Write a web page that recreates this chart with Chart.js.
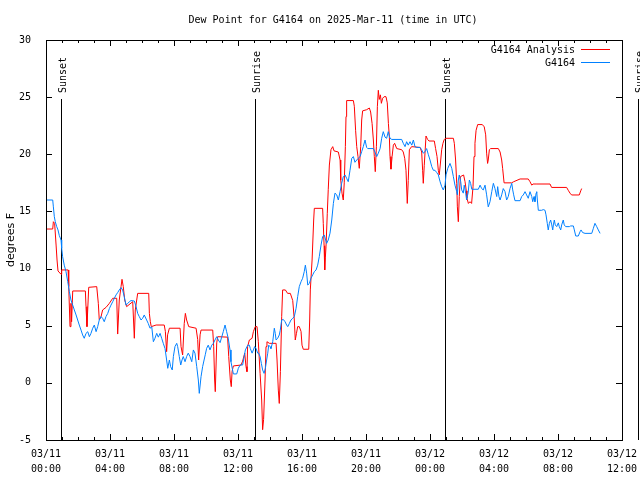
<!DOCTYPE html>
<html>
<head>
<meta charset="utf-8">
<title>Dew Point for G4164</title>
<script src="https://cdn.jsdelivr.net/npm/chart.js@4"></script>
<style>
  html, body { margin: 0; padding: 0; background: #fff; }
  canvas { display: block; }
</style>
</head>
<body>
<canvas id="dewChart" width="640" height="480"></canvas>
<script>
// times are hours after 03/11 00:00 UTC, dew point in degrees F
const analysisHours = [
  0,0.42,0.46,0.54,0.63,0.69,0.75,0.94,0.98,1.38, 1.42,1.5,1.56,1.6,1.67,2.46,2.5,2.56,2.67,3.17,
  3.27,3.33,3.44,3.54,3.75,3.96,4.17,4.42,4.48,4.58, 4.69,4.75,4.83,4.92,5.04,5.42,5.52,5.58,5.73,6.25,
  6.42,6.46,6.52,6.58,6.88,7.39,7.46,7.54,7.6,7.71, 8.38,8.44,8.54,8.64,8.71,8.79,8.92,9.38,9.48,9.54,
  9.63,9.69,10.42,10.48,10.54,10.58,10.67,10.73,11.35,11.42, 11.52,11.58,11.63,11.71,12.19,12.29,12.42,12.5,12.56,12.6,
  12.71,12.88,12.96,13.08,13.19,13.27,13.38,13.48,13.54,13.6, 13.69,13.75,13.81,13.96,14.38,14.44,14.52,14.58,14.65,14.73,
  14.79,14.96,15.1,15.27,15.42,15.52,15.58,15.65,15.73,15.83, 15.94,16.0,16.08,16.42,16.48,16.52,16.63,16.73,16.77,17.29,
  17.33,17.38,17.42,17.46,17.5,17.58,17.64,17.71,17.81,17.92, 18.0,18.27,18.38,18.42,18.5,18.58,18.64,18.71,18.75,18.79,
  19.21,19.27,19.35,19.42,19.5,19.58,19.67,19.73,19.79,20.04, 20.21,20.29,20.38,20.46,20.52,20.58,20.65,20.71,20.77,20.83,
  20.9,20.96,21.04,21.13,21.25,21.33,21.4,21.46,21.5,21.56, 21.63,21.71,21.79,21.92,22.23,22.33,22.42,22.5,22.58,22.64,
  22.71,22.85,23.38,23.48,23.54,23.58,23.64,23.75,23.85,23.94, 24.27,24.35,24.44,24.52,24.58,24.67,24.73,24.81,24.89,25.0,
  25.46,25.52,25.6,25.67,25.71,25.77,25.83,25.9,26.1,26.19, 26.27,26.31,26.4,26.5,26.6,26.69,26.75,26.81,26.88,26.98,
  27.27,27.39,27.48,27.54,27.6,27.64,27.71,27.79,28.27,28.38, 28.48,28.54,28.63,29.1,29.23,29.63,30.14,30.25,30.36,30.44,
  30.63,31.5,31.6,32.54,32.64,32.75,32.85,33.33,33.42,33.48
];
const analysisDew = [
  13.46,13.46,14.1,13.96,12.06,10.75,9.79,9.5,9.88,9.88, 8.42,4.92,6.96,5.35,8.04,8.04,6.67,4.92,8.36,8.42,
  6.96,5.5,5.79,6.38,6.6,6.96,7.4,7.4,4.27,7.25, 8.42,9.06,8.42,7.25,6.67,7.1,3.9,6.38,7.83,7.83,
  7.83,6.08,5.35,4.92,5.06,5.06,4.5,2.73,4.2,4.78, 4.78,3.17,2.44,5.2,6.08,5.5,4.92,4.78,3.8,2.0,
  4.2,4.62,4.62,3.2,0.25,-0.77,3.5,4.04,4.0,2.3, 0.25,-0.33,1.0,1.48,1.56,1.9,2.6,1.42,0.98,3.17,
  3.75,3.9,4.48,4.92,4.92,3.6,0.83,-1.5,-4.1,-3.2, 0.25,3.17,3.6,3.46,3.46,2.0,-0.63,-1.8,1.0,5.79,
  8.13,8.13,7.83,7.83,7.2,5.5,3.75,4.3,4.92,4.92, 4.5,3.3,2.94,2.94,5.5,8.13,10.75,14.25,15.27,15.27,
  13.96,12.0,9.88,11.0,11.9,14.8,16.9,19.06,20.4,20.67, 20.3,20.2,19.5,17.75,16.6,16.0,17.5,20.67,23.3,24.7,
  24.7,24.2,22.1,20.67,19.8,18.77,20.7,23.0,23.8,23.9, 24.05,23.7,22.7,21.25,19.8,18.48,20.7,24.17,25.6,24.8,
  25.2,24.46,24.9,25.04,25.04,24.5,22.7,21.5,19.8,18.7, 19.8,20.8,20.96,20.5,20.4,20.2,19.65,18.6,15.7,17.7,
  20.4,20.67,20.6,20.2,18.6,17.46,19.0,21.6,21.3,21.16, 21.16,20.5,19.8,18.6,18.2,19.5,20.4,20.96,21.3,21.4,
  21.4,20.96,19.5,17.46,15.4,14.1,16.3,18.04,18.19,17.6, 16.8,16.15,15.7,15.85,15.7,17.17,19.8,20.96,22.1,22.6,
  22.6,22.4,21.7,20.1,19.2,19.5,20.4,20.5,20.5,20.2, 19.5,18.77,17.5,17.5,17.6,17.84,17.84,17.6,17.3,17.4,
  17.4,17.4,17.1,17.1,16.85,16.6,16.44,16.44,16.8,17.0
];

const stationHours = [
  0,0.42,0.46,0.52,0.58,0.67,0.75,0.83,0.94,0.98, 1.04,1.14,1.25,1.36,1.46,1.56,1.67,1.77,1.88,1.98,
  2.08,2.19,2.29,2.39,2.5,2.61,2.71,2.81,2.92,3.02, 3.13,3.23,3.33,3.44,3.54,3.64,3.75,3.86,3.96,4.06,
  4.17,4.27,4.38,4.48,4.58,4.69,4.79,4.89,5.0,5.11, 5.21,5.31,5.52,5.63,5.73,5.83,5.94,6.04,6.14,6.29,
  6.39,6.5,6.61,6.71,6.81,6.92,7.02,7.13,7.23,7.33, 7.44,7.54,7.61,7.71,7.79,7.89,7.96,8.06,8.17,8.23,
  8.33,8.42,8.5,8.58,8.69,8.79,8.89,9.0,9.11,9.21, 9.31,9.42,9.52,9.58,9.69,9.79,9.88,9.96,10.04,10.14,
  10.25,10.36,10.46,10.56,10.67,10.77,10.88,10.98,11.08,11.19, 11.29,11.39,11.5,11.56,11.64,11.71,11.92,12.02,12.13,12.29,
  12.46,12.61,12.71,12.77,12.88,12.96,13.04,13.13,13.23,13.29, 13.38,13.46,13.54,13.63,13.71,13.79,13.86,13.92,14.0,14.06,
  14.17,14.27,14.33,14.38,14.48,14.58,14.64,14.73,14.83,14.94, 15.04,15.11,15.21,15.31,15.42,15.52,15.63,15.73,15.83,15.94,
  16.04,16.14,16.21,16.29,16.36,16.46,16.56,16.67,16.77,16.88, 16.98,17.08,17.19,17.29,17.39,17.54,17.64,17.75,17.86,17.96,
  18.06,18.17,18.27,18.38,18.48,18.58,18.69,18.79,18.89,19.0, 19.11,19.21,19.31,19.42,19.52,19.63,19.73,19.83,19.94,20.04,
  20.11,20.46,20.56,20.67,20.77,20.88,20.98,21.08,21.19,21.29, 21.39,21.5,21.61,22.23,22.33,22.44,22.54,22.64,22.75,22.86,
  22.96,23.06,23.17,23.38,23.48,23.58,23.69,23.79,23.89,24.0, 24.11,24.21,24.31,24.42,24.52,24.63,24.73,24.83,24.94,25.0,
  25.11,25.25,25.36,25.46,25.56,25.67,25.71,25.77,25.83,25.92, 25.98,26.08,26.14,26.23,26.29,26.39,26.46,26.54,26.61,27.02,
  27.13,27.23,27.33,27.44,27.54,27.64,27.75,27.86,27.96,28.06, 28.17,28.23,28.31,28.38,28.48,28.58,28.69,28.79,28.89,29.0,
  29.11,29.17,29.23,29.31,29.63,29.73,29.83,29.94,30.04,30.14, 30.25,30.36,30.42,30.5,30.56,30.63,30.67,30.71,30.77,30.98,
  31.08,31.19,31.25,31.33,31.39,31.46,31.54,31.61,31.67,31.71, 31.77,31.83,31.92,32.02,32.08,32.17,32.23,32.33,32.39,32.48,
  32.71,32.79,32.96,33.02,33.11,33.27,33.38,33.44,33.54,33.69, 34.11,34.21,34.31,34.42,34.52,34.63
];
const stationDew = [
  16.0,16.0,15.4,14.54,14.1,13.67,13.38,12.9,12.5,11.77, 11.04,10.3,9.73,8.85,7.98,7.25,6.8,6.38,5.94,5.5,
  5.06,4.62,4.19,3.9,4.33,4.48,4.04,4.33,4.78,5.06, 4.48,4.92,5.5,5.8,5.65,5.35,5.8,6.08,6.5,6.8,
  7.1,7.4,7.7,7.9,8.13,8.33,8.13,7.54,6.8,6.95, 7.1,7.2,7.16,6.67,6.08,5.8,5.5,5.65,5.94,5.5,
  5.2,4.78,4.9,3.6,3.9,4.33,4.0,4.33,3.9,3.46, 3.0,2.0,1.27,2.0,1.42,1.13,2.3,3.17,3.46,3.17,
  2.3,1.56,2.0,2.3,1.85,2.3,2.6,2.3,1.85,2.88, 2.6,1.42,0.25,-0.92,0.54,1.42,2.0,2.5,3.02,3.3,
  2.88,3.3,3.46,3.75,4.04,3.75,3.52,4.0,4.48,5.06, 4.48,3.9,2.88,1.85,1.27,0.78,0.78,1.27,1.56,1.56,
  2.88,3.3,3.3,3.0,2.6,2.88,3.17,3.0,2.6,2.6, 2.3,1.7,1.13,0.83,1.27,2.0,2.6,3.3,3.17,3.0,
  3.6,4.78,4.33,3.75,3.9,4.19,4.6,5.5,5.55,5.35, 5.06,4.92,5.2,5.5,5.65,5.8,6.53,7.54,8.42,8.85,
  9.15,9.73,10.3,9.6,8.56,8.7,9.15,9.45,9.73,9.88, 10.3,11.04,12.06,12.79,12.94,12.2,12.5,13.1,14.25,15.7,
  16.6,16.45,16.0,16.73,17.46,18.04,18.19,17.9,17.6,18.6, 19.65,19.8,19.3,19.5,19.65,19.8,20.23,20.67,21.25,20.6,
  20.5,20.5,20.2,19.8,20.1,20.5,21.4,21.98,21.5,21.4, 21.98,21.4,21.3,21.3,20.96,20.67,21.1,20.8,21.1,20.8,
  21.25,20.67,20.6,20.6,20.4,20.1,20.23,20.5,20.0,19.5, 18.92,18.6,18.6,18.4,18.2,17.6,17.17,16.88,17.3,18.2,
  18.77,19.2,18.77,18.04,17.3,16.73,16.45,17.75,18.19,17.6, 16.88,16.6,17.3,16.6,16.0,16.7,17.75,17.45,16.94,16.94,
  17.3,17.0,16.88,17.3,16.45,15.4,15.85,16.73,17.46,17.0, 16.3,17.17,16.3,16.0,16.45,17.0,16.73,16.0,16.3,17.0,
  17.46,16.88,16.45,15.94,15.94,16.3,16.44,16.73,16.44,16.15, 16.73,16.3,15.85,16.3,15.85,16.6,16.73,16.0,15.1,15.1,
  15.16,15.1,14.7,13.96,13.38,13.96,14.25,13.82,13.38,13.82, 14.25,13.82,13.67,14.0,13.67,13.38,13.82,14.25,13.82,13.67,
  13.67,13.73,13.73,13.38,12.85,12.85,13.23,13.38,13.15,13.08, 13.08,13.52,13.96,13.67,13.38,13.08
];

// sunrise / sunset markers
const sunHours = [0.94, 13.06, 24.94, 37.0];
const sunLabels = ['Sunset', 'Sunrise', 'Sunset', 'Sunrise'];

// axis ticks
const xTickHours = [0, 4, 8, 12, 16, 20, 24, 28, 32, 36];
const xTickDates = ['03/11', '03/11', '03/11', '03/11', '03/11', '03/11', '03/12', '03/12', '03/12', '03/12'];
const xTickTimes = ['00:00', '04:00', '08:00', '12:00', '16:00', '20:00', '00:00', '04:00', '08:00', '12:00'];
const yTicks = [-5, 0, 5, 10, 15, 20, 25, 30];

const seriesNames = ['G4164 Analysis', 'G4164'];
const seriesColors = ['#ff0000', '#0080ff'];

const mono = 'DejaVu Sans Mono';

function toPoints(hours, vals) {
  return hours.map((h, i) => ({ x: h, y: vals[i] }));
}

// gnuplot style frame, inward ticks, sun markers, legend and titles
const gnuplotBits = {
  id: 'gnuplotBits',
  beforeDatasetsDraw(chart) {
    const { ctx, chartArea, scales } = chart;
    ctx.save();
    ctx.strokeStyle = '#000';
    ctx.fillStyle = '#000';
    ctx.lineWidth = 1;
    ctx.font = '10px "' + mono + '"';
    sunHours.forEach((h, i) => {
      const px = Math.round(scales.x.getPixelForValue(h)) + 0.5;
      ctx.beginPath();
      ctx.moveTo(px, 99);
      ctx.lineTo(px, chartArea.bottom);
      ctx.stroke();
      ctx.save();
      ctx.translate(px + 1.5, 93);
      ctx.rotate(-Math.PI / 2);
      ctx.textAlign = 'left';
      ctx.textBaseline = 'middle';
      ctx.fillText(sunLabels[i], 0, 0);
      ctx.restore();
    });
    ctx.restore();
  },
  afterDatasetsDraw(chart) {
    const { ctx, chartArea, scales } = chart;
    const { left, right, top, bottom } = chartArea;
    ctx.save();
    ctx.strokeStyle = '#000';
    ctx.lineWidth = 1;
    ctx.strokeRect(left + 0.5, top + 0.5, right - left, bottom - top);

    ctx.beginPath();
    for (let h = 0; h <= 36; h++) {
      const px = Math.round(scales.x.getPixelForValue(h)) + 0.5;
      const len = h % 4 === 0 ? 6 : 3;
      ctx.moveTo(px, bottom);
      ctx.lineTo(px, bottom - len);
      ctx.moveTo(px, top);
      ctx.lineTo(px, top + len);
    }
    yTicks.forEach(v => {
      const py = Math.round(scales.y.getPixelForValue(v)) + 0.5;
      ctx.moveTo(left, py);
      ctx.lineTo(left + 6, py);
      ctx.moveTo(right, py);
      ctx.lineTo(right - 6, py);
    });
    ctx.stroke();

    // legend
    ctx.font = '10px "' + mono + '"';
    ctx.textAlign = 'right';
    ctx.textBaseline = 'middle';
    ctx.fillStyle = '#000';
    seriesNames.forEach((name, i) => {
      const y = 50 + i * 13;
      ctx.fillText(name, 575, y);
      ctx.strokeStyle = seriesColors[i];
      ctx.beginPath();
      ctx.moveTo(581, y - 0.5);
      ctx.lineTo(610, y - 0.5);
      ctx.stroke();
    });

    // title
    ctx.textAlign = 'center';
    ctx.fillText('Dew Point for G4164 on 2025-Mar-11 (time in UTC)', 333, 20);

    // y axis title
    ctx.save();
    ctx.translate(11, 240);
    ctx.rotate(-Math.PI / 2);
    ctx.font = '11px "DejaVu Sans"';
    ctx.fillText('degrees F', 0, 0);
    ctx.restore();
    ctx.restore();
  }
};

const ctx = document.getElementById('dewChart').getContext('2d');
const dewChart = new Chart(ctx, {
  type: 'line',
  data: {
    datasets: [
      {
        label: seriesNames[0],
        data: toPoints(analysisHours, analysisDew),
        borderColor: seriesColors[0],
        borderWidth: 1,
        pointRadius: 0,
        tension: 0,
        order: 1
      },
      {
        label: seriesNames[1],
        data: toPoints(stationHours, stationDew),
        borderColor: seriesColors[1],
        borderWidth: 1,
        pointRadius: 0,
        tension: 0,
        order: 0
      }
    ]
  },
  options: {
    responsive: false,
    animation: false,
    events: [],
    layout: { padding: { top: 40, right: 18, left: 0, bottom: 0 } },
    plugins: {
      legend: { display: false },
      title: { display: false },
      tooltip: { enabled: false }
    },
    scales: {
      x: {
        type: 'linear',
        min: 0,
        max: 36,
        afterBuildTicks: scale => { scale.ticks = xTickHours.map(v => ({ value: v })); },
        afterFit: scale => { scale.height = 40; },
        grid: { display: false },
        border: { display: false },
        ticks: {
          autoSkip: false,
          maxRotation: 0,
          padding: -1,
          color: '#000',
          font: { family: mono, size: 10, lineHeight: 1.5 },
          callback: value => {
            const i = xTickHours.indexOf(value);
            return [xTickDates[i], xTickTimes[i]];
          }
        }
      },
      y: {
        min: -5,
        max: 30,
        afterBuildTicks: scale => { scale.ticks = yTicks.map(v => ({ value: v })); },
        afterFit: scale => { scale.width = 46; },
        grid: { display: false },
        border: { display: false },
        ticks: {
          padding: 7,
          color: '#000',
          font: { family: mono, size: 10 }
        }
      }
    }
  },
  plugins: [gnuplotBits]
});
</script>
</body>
</html>
